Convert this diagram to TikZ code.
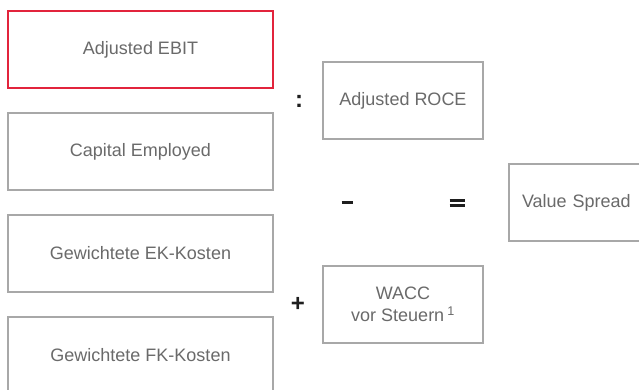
\documentclass[tikz,border=0pt]{standalone}
\usepackage{fontspec}
\setmainfont{Liberation Sans}
\definecolor{boxgray}{HTML}{A8A8A8}
\definecolor{txtgray}{HTML}{6A6A6A}
\definecolor{accent}{HTML}{E2243C}
\definecolor{opcol}{HTML}{1E1E1E}
\begin{document}
\begin{tikzpicture}[x=1pt,y=-1pt,
  box/.style={draw=boxgray, line width=1.4pt, fill=white, minimum width=265pt, minimum height=77pt,
    inner sep=0pt, font=\fontsize{18}{23}\selectfont, text=txtgray, align=center},
  smallbox/.style={box, minimum width=160pt},
  op/.style={font=\fontsize{24}{24}\selectfont\bfseries, text=opcol, inner sep=0pt}]
\useasboundingbox (0,0) rectangle (639,390);
\clip (0,0) rectangle (639,390);
\node[box] (cap) at (140.5,151.5) {Capital Employed};
\node[box, draw=accent] (ebit) at (140.5,49.5) {Adjusted EBIT};
\node[box] (ek) at (140.5,253.5) {Gewichtete EK-Kosten};
\node[box] (fk) at (140.5,355.5) {Gewichtete FK-Kosten};
\node[smallbox] (roce) at (403,100.5) {Adjusted ROCE};
\node[smallbox] (wacc) at (403,304.5) {WACC\\[-1pt]vor Steuern\,\textsuperscript{1}};
\node[smallbox, text width=134pt, align=left, inner xsep=13pt] (vs) at (589,202.5) {Value Spread};
\node[op] (colon) at (299,101) {:};
\node[op] (minus) at (347,202.5) {\rule{11pt}{2.8pt}};
\node[op] (equal) at (457,202.5) {\rule[3.4pt]{15pt}{3pt}\llap{\rule[-1.6pt]{15pt}{3pt}}};
\node[op] (plus) at (298,304) {+};
\end{tikzpicture}
\end{document}
